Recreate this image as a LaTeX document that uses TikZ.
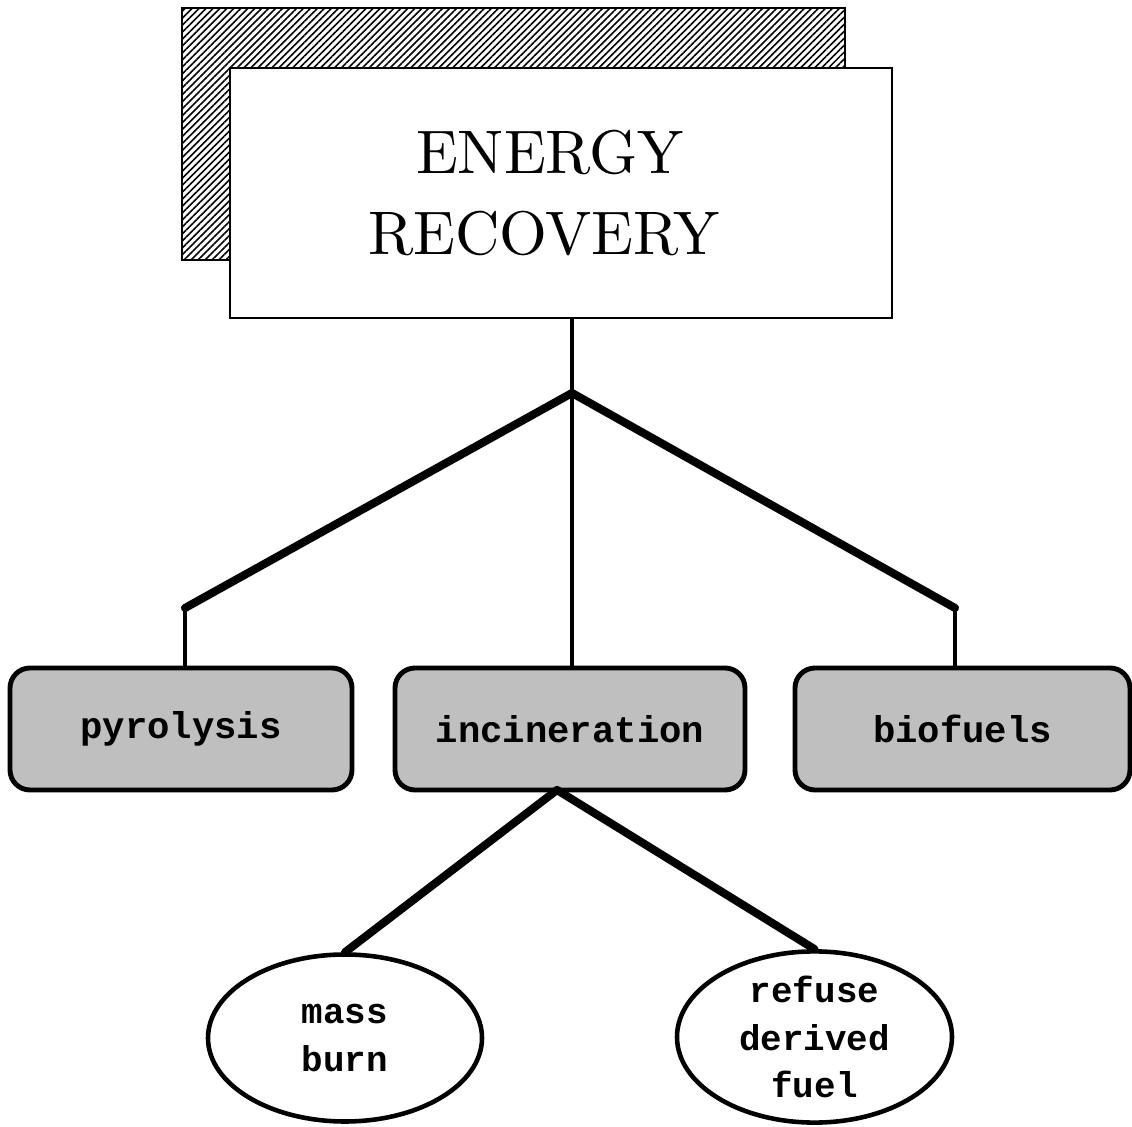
\documentclass[tikz,border=0pt]{standalone}
\usepackage{fontspec}
\setmonofont{Liberation Mono}
\newfontfamily\titlefont{lmroman10-regular.otf}
\usepackage{tikz}
\usetikzlibrary{positioning,shapes.geometric,patterns.meta}
\usepackage{xcolor}

\begin{document}
\begin{tikzpicture}[
        shadowbox/.style={draw, line width=0.6pt, minimum width=6.63cm, minimum height=2.52cm,
            pattern={Lines[angle=45,distance=1.4pt,line width=0.45pt]}},
        titlebox/.style={draw, fill=white, line width=0.6pt, minimum width=6.62cm, minimum height=2.5cm,
            align=center, font=\titlefont\fontsize{17.5}{23.3}\selectfont},
        method/.style={draw, rounded corners=0.2cm, line width=1.4pt, fill=black!25, inner sep=0pt,
            minimum height=1.22cm, font=\fontsize{10.6}{13}\selectfont\ttfamily\bfseries},
        variant/.style={draw, ellipse, line width=1.3pt, inner sep=0pt, align=center,
            font=\fontsize{10.2}{13.4}\selectfont\ttfamily\bfseries},
        branch/.style={line width=2.3pt, line cap=round},
        stem/.style={line width=1.3pt}
    ]
        % Fix the page size
        \useasboundingbox (0,0) rectangle (11.32,11.26);
        
        % Title box with its hatched shadow
        \node[shadowbox] (shadow) at (5.135,9.92) {};
        \node[titlebox] (title) at (5.61,9.33) {ENERGY\hspace*{0.22cm}\\RECOVERY\hspace*{0.34cm}};
        
        % Recovery methods
        \node[method, minimum width=3.42cm] (pyro) at (1.81,3.97) {pyrolysis};
        \node[method, minimum width=3.50cm] (incin) at (5.70,3.97) {incineration};
        \node[method, minimum width=3.35cm] (bio) at (9.625,3.97) {biofuels};
        
        % Kinds of incineration
        \node[variant, minimum width=2.74cm, minimum height=1.67cm] (mass) at (3.45,0.88) {mass\\burn};
        \node[variant, minimum width=2.75cm, minimum height=1.69cm] (rdf) at (8.145,0.89) {refuse\\derived\\fuel};
        
        % Branch points
        \coordinate (junction) at (5.72,7.33);
        \coordinate (kneeL) at (1.85,5.18);
        \coordinate (kneeR) at (9.55,5.18);
        \coordinate (fork) at (5.57,3.36);
        
        % Tree from the title down to the methods
        \draw[stem] (title.south -| junction) -- (junction);
        \draw[stem] (junction) -- (junction |- incin.north);
        \draw[branch] (junction) -- (kneeL);
        \draw[branch] (junction) -- (kneeR);
        \draw[stem] (kneeL) -- (kneeL |- pyro.north);
        \draw[stem] (kneeR) -- (kneeR |- bio.north);
        
        % Incineration splits in two
        \draw[branch] (fork) -- (mass.north);
        \draw[branch] (fork) -- (rdf.north);
        
    \end{tikzpicture}
\end{document}
